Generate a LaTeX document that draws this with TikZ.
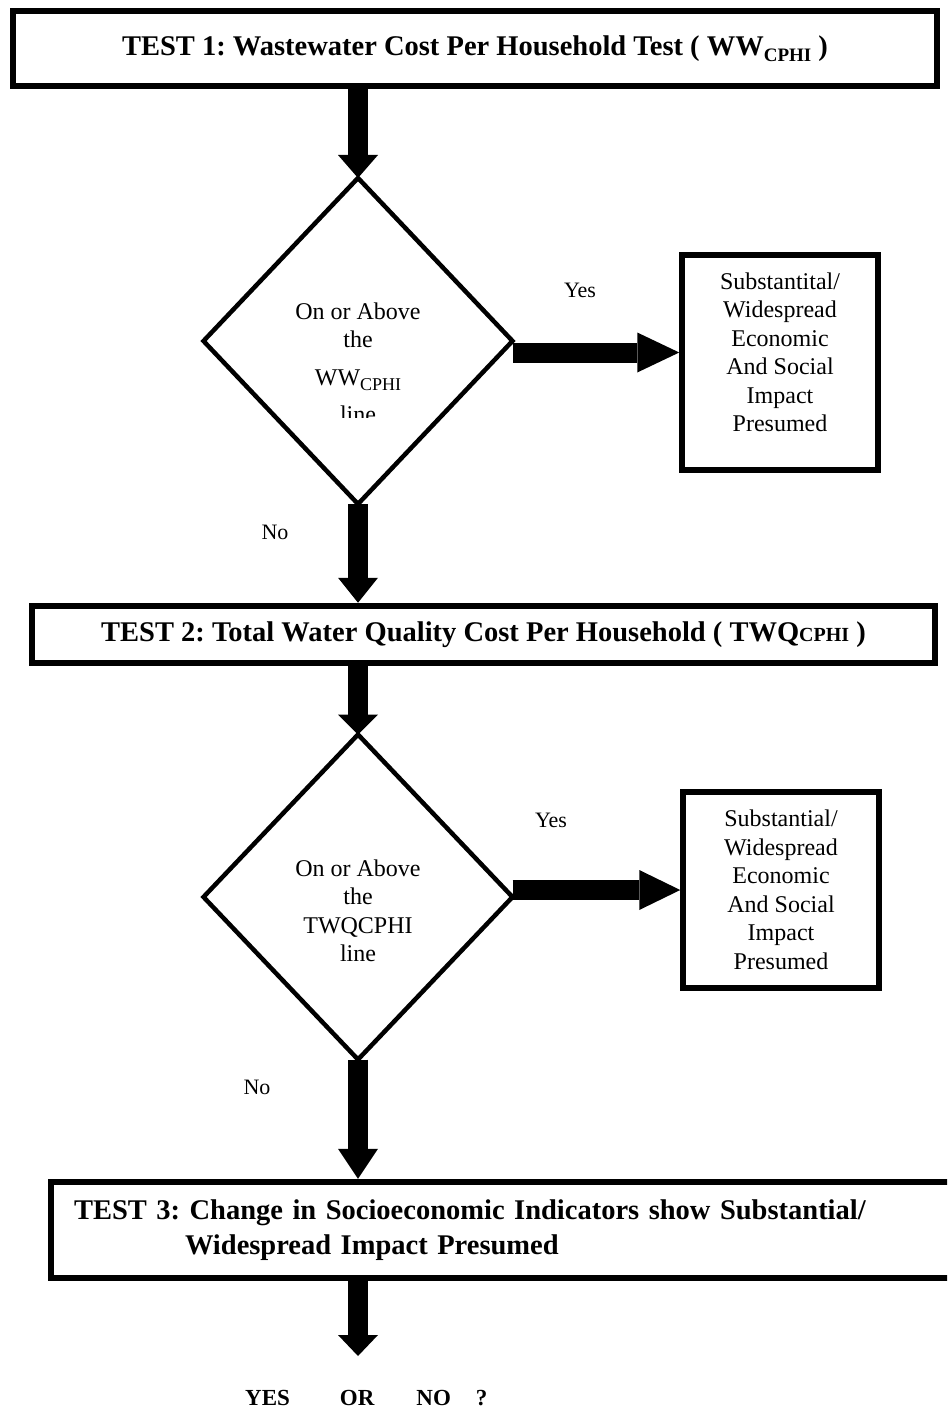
\documentclass[tikz,border=0pt]{standalone}
\usepackage{fontspec}
\setmainfont{Liberation Serif}
\usetikzlibrary{shapes.geometric,calc}
\frenchspacing
\newcommand\titlefont{\fontsize{28.5}{35}\selectfont\bfseries}
\newcommand\bodyfont{\fontsize{24}{28.5}\selectfont}
\newcommand\labfont{\fontsize{22}{26}\selectfont}
\newcommand\fatarrow[3]{%
  \coordinate (fah) at ($(#3)!#1!(#2)$);
  \draw[shaft] (#2) -- (fah);
  \fill ($(fah)!20pt!90:(#3)$) -- (#3) -- ($(fah)!20pt!-90:(#3)$) -- cycle;}
\begin{document}
\begin{tikzpicture}[x=1pt,y=-1pt,
  titlebox/.style={draw, line width=6.5pt, rectangle, inner sep=0pt, font=\titlefont, align=center},
  sidebox/.style={draw, line width=5.5pt, rectangle, inner sep=0pt, font=\bodyfont, align=center, minimum width=196pt},
  decision/.style={draw, diamond, line width=4.5pt, inner sep=0pt, outer sep=0pt, minimum width=309pt},
  dtext/.style={inner sep=0pt, font=\bodyfont, align=center, anchor=north},
  lab/.style={inner sep=0pt, font=\labfont},
  shaft/.style={line width=20pt}]
\useasboundingbox (0,0) rectangle (947,1412);
\clip (0,0) rectangle (947,1412);
\fill[white] (0,0) rectangle (947,1412);

% Test 1
\node[titlebox, minimum width=924pt, minimum height=75pt] (b1) at (475,48.5)
  {TEST 1: Wastewater Cost Per Household Test ( WW\raisebox{-6pt}{\fontsize{19}{19}\selectfont CPHI} )};
\node[decision, minimum height=326pt] (d1) at (358,341) {};
\begin{scope}
  \clip (190,290) rectangle (530,417);
  \node[dtext] (d1t) at (358,302.5)
    {On or Above\\the\\[9pt]WW\raisebox{-5pt}{\fontsize{18}{18}\selectfont CPHI}\\[9pt]line};
\end{scope}
\node[sidebox, minimum height=215pt, text depth=21pt] (r1) at (780,362.5)
  {Substantital/\\Widespread\\Economic\\And Social\\Impact\\Presumed};

% Test 2
\node[titlebox, minimum width=903pt, minimum height=57pt] (b2) at (483.5,634.5)
  {TEST 2: Total Water Quality Cost Per Household ( TWQ{\fontsize{20}{20}\selectfont CPHI} )};
\node[decision, minimum height=325pt] (d2) at (358,897) {};
\node[dtext] (d2t) at (358,859.5) {On or Above\\the\\TWQCPHI\\line};
\node[sidebox, minimum height=196pt] (r2) at (781,890)
  {Substantial/\\Widespread\\Economic\\And Social\\Impact\\Presumed};

% Test 3
\node[titlebox, minimum width=949pt, minimum height=96pt, text width=903pt, align=left] (b3) at (525.5,1230)
  {TEST 3: Change in Socioeconomic Indicators show Substantial/\\\hspace*{111pt}Widespread Impact Presumed};

% labels
\node[lab] (yes1) at (580,290) {Yes};
\node[lab] (yes2) at (551,820) {Yes};
\node[lab] (no1) at (275,532) {No};
\node[lab] (no2) at (257,1087) {No};
\node[inner sep=0pt, anchor=base west, font=\fontsize{23}{27}\selectfont\bfseries] (q) at (245,1405)
  {YES\hspace{50pt}OR\hspace{42pt}NO\hspace{25pt}?};

% arrows
\coordinate (a1s) at (d1.north |- b1.south);
\fatarrow{23pt}{a1s}{d1.north}
\coordinate (a2e) at (d1.south |- b2.north);
\fatarrow{25pt}{d1.south}{a2e}
\coordinate (a3s) at (d2.north |- b2.south);
\fatarrow{20pt}{a3s}{d2.north}
\coordinate (a4e) at (d2.south |- b3.north);
\fatarrow{30pt}{d2.south}{a4e}
\coordinate (a5s) at (d2.south |- b3.south);
\coordinate (a5e) at (358,1356);
\fatarrow{21pt}{a5s}{a5e}
\coordinate (y1s) at ($(d1.east)+(0,11.5)$);
\coordinate (y1e) at (y1s -| r1.west);
\fatarrow{42pt}{y1s}{y1e}
\coordinate (y2s) at ($(d2.east)+(0,-7)$);
\coordinate (y2e) at (y2s -| r2.west);
\fatarrow{41pt}{y2s}{y2e}
\end{tikzpicture}
\end{document}
